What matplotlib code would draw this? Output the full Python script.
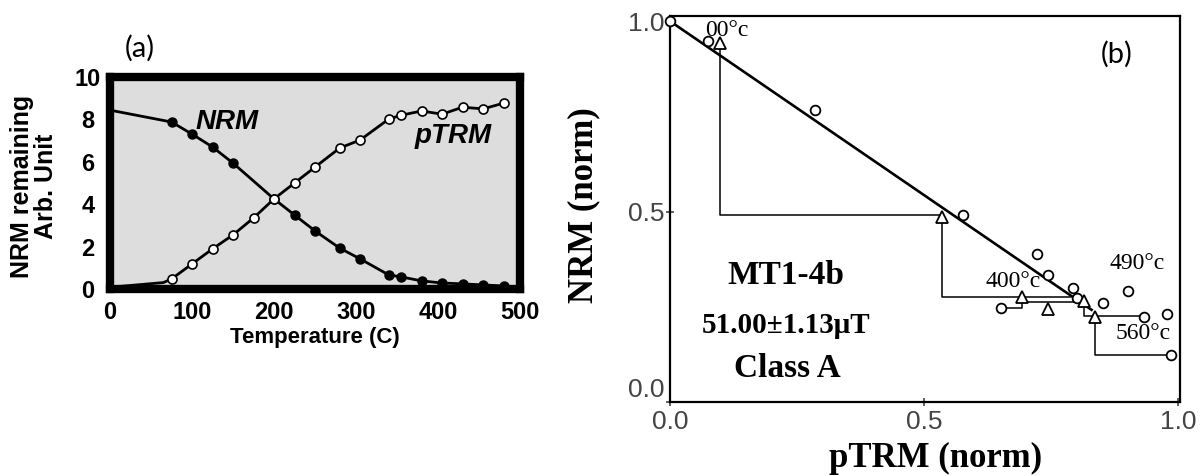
import matplotlib
matplotlib.use('Agg')
import matplotlib.pyplot as plt

## (a) NRM lost / pTRM gained vs temperature
temp_nrm = [75, 100, 125, 150, 200, 225, 250, 280, 305, 340, 355, 380, 405, 430, 455, 480]
nrm = [7.88, 7.31, 6.7, 5.94, 4.25, 3.49, 2.74, 1.93, 1.42, 0.66, 0.57, 0.38, 0.28, 0.24, 0.19, 0.14]
nrm_lead_t = [0]
nrm_lead = [8.44]

temp_ptrm = [75, 100, 125, 150, 175, 200, 225, 250, 280, 305, 340, 355, 380, 405, 430, 455, 480]
ptrm = [0.47, 1.18, 1.89, 2.55, 3.35, 4.25, 5.0, 5.75, 6.65, 7.03, 8.02, 8.2, 8.4, 8.25, 8.58, 8.5, 8.77]
ptrm_lead_t = [0, 65]
ptrm_lead = [0.08, 0.3]

## (b) Arai plot
arai_ptrm = [0.0, 0.075, 0.285, 0.576, 0.723, 0.745, 0.794, 0.801, 0.852, 0.651, 0.902, 0.933, 0.979, 0.986]
arai_nrm = [1.0, 0.947, 0.766, 0.49, 0.388, 0.333, 0.298, 0.272, 0.261, 0.246, 0.291, 0.224, 0.230, 0.123]
check_ptrm = [0.098, 0.536, 0.694, 0.745, 0.815, 0.837]
check_nrm = [0.942, 0.485, 0.275, 0.243, 0.265, 0.222]
# check lines as polylines (pTRM, NRM)
check_lines = [
    ([0.098, 0.098, 0.536], [0.935, 0.49, 0.49]),
    ([0.536, 0.536, 0.787], [0.48, 0.276, 0.276]),
    ([0.651, 0.694, 0.694], [0.246, 0.246, 0.27]),
    ([0.694, 0.815], [0.263, 0.263]),
    ([0.815, 0.815, 0.933], [0.26, 0.226, 0.226]),
    ([0.837, 0.837, 0.986], [0.215, 0.123, 0.123]),
]
fit_x = [0.0, 0.83]
fit_y = [1.0, 0.242]

sans = 'Liberation Sans'
serif = 'Liberation Serif'

fig = plt.figure(figsize=(12, 4.76), dpi=100)

# ---------------- panel (a)
ax = fig.add_axes([0.0917, 0.393, 0.3416, 0.445])
ax.set_facecolor('#dddddd')
ax.plot(nrm_lead_t + temp_nrm, nrm_lead + nrm, color='black', lw=2, zorder=2)
ax.plot(temp_nrm, nrm, 'o', color='black', ms=6.5, zorder=3)
ax.plot(ptrm_lead_t + temp_ptrm, ptrm_lead + ptrm, color='black', lw=2, zorder=2)
ax.plot(temp_ptrm, ptrm, 'o', mfc='white', mec='black', mew=1.2, ms=6.5, zorder=3)
ax.set_xlim(0, 500)
ax.set_ylim(0, 10)
for s in ax.spines.values():
    s.set_linewidth(6)
    s.set_zorder(4)
ax.set_xticks(range(0, 501, 100))
ax.set_yticks(range(0, 11, 2))
ax.tick_params(length=0, pad=9)
ax.tick_params(axis='y', pad=16)
for lab in ax.get_xticklabels() + ax.get_yticklabels():
    lab.set_fontproperties({'family': sans, 'weight': 'bold', 'size': 17})
for lab in ax.get_yticklabels():
    lab.set_horizontalalignment('center')
ax.text(143, 7.9, 'NRM', family=sans, weight='bold', style='italic', size=20,
        ha='center', va='center')
ax.text(419, 7.2, 'pTRM', family=sans, weight='bold', style='italic', size=20,
        ha='center', va='center')
fig.text(34 / 1200, 1 - 186 / 476, 'NRM remaining\nArb. Unit', rotation=90,
         family=sans, weight='bold', size=18, ha='center', va='center',
         multialignment='center', linespacing=0.95)
fig.text(315 / 1200, 1 - 338 / 476, 'Temperature (C)', family=sans, weight='bold',
         size=16, ha='center', va='center')
fig.text(140 / 1200, 1 - 48 / 476, '(a)', family='Lato', size=21, ha='center', va='center')

# ---------------- panel (b)
bx = fig.add_axes([0.5583, 0.1555, 0.425, 0.8105])
bx.plot(fit_x, fit_y, color='black', lw=1.9, zorder=2)
for lx, ly in check_lines:
    bx.plot(lx, ly, color='black', lw=1.1, zorder=2)
bx.plot(arai_ptrm, arai_nrm, 'o', mfc='white', mec='black', mew=1.3, ms=7,
        zorder=3, clip_on=False)
bx.plot(check_ptrm, check_nrm, '^', mfc='white', mec='black', mew=1.3, ms=8,
        zorder=3)
bx.set_xlim(0, 1.004)
bx.set_ylim(0, 1.013)
for s in bx.spines.values():
    s.set_linewidth(1.6)
bx.set_xticks([0, 0.5, 1.0])
bx.set_yticks([0, 0.5, 1.0])
bx.set_xticklabels(['0.0', '0.5', '1.0'])
bx.set_yticklabels(['0.0', '0.5', '1.0'])
bx.tick_params(direction='inout', length=6, width=1.2, pad=1, colors='#444444')
bx.tick_params(axis='x', pad=3)
for lab in bx.get_xticklabels() + bx.get_yticklabels():
    lab.set_fontproperties({'family': sans, 'size': 19})
bx.get_yticklabels()[0].set_verticalalignment('bottom')
bx.text(0.112, 0.976, '00°c', family=serif, size=17, ha='center', va='center')
bx.text(0.676, 0.316, '400°c', family=serif, size=17, ha='center', va='center')
bx.text(0.919, 0.364, '490°c', family=serif, size=17, ha='center', va='center')
bx.text(0.932, 0.18, '560°c', family=serif, size=17, ha='center', va='center')
bx.text(0.228, 0.333, 'MT1-4b', family=serif, weight='bold', size=24, ha='center', va='center')
bx.text(0.228, 0.20, '51.00±1.13μT', family=serif, weight='bold', size=21, ha='center', va='center')
bx.text(0.232, 0.088, 'Class A', family=serif, weight='bold', size=24, ha='center', va='center')
fig.text(584 / 1200, 1 - 205 / 476, 'NRM (norm)', rotation=90, family=serif,
         weight='bold', size=25, ha='center', va='center')
fig.text(936 / 1200, 1 - 458 / 476, 'pTRM (norm)', family=serif, weight='bold',
         size=25, ha='center', va='center')
fig.text(1117 / 1200, 1 - 54 / 476, '(b)', family='Lato', size=21, ha='center', va='center')

fig.savefig('out.png', dpi=100, facecolor='white')
